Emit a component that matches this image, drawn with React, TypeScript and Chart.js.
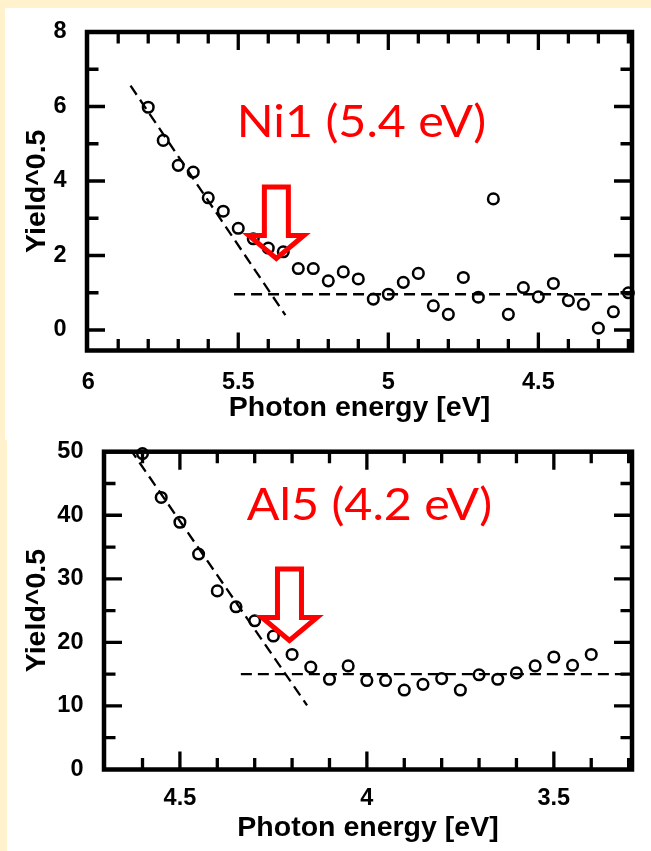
import React, { useEffect, useRef } from "react";
import { Chart, registerables } from "chart.js";

Chart.register(...registerables);

// ---------- Ni1 panel data ----------
const niEnergy = [
  5.8, 5.75, 5.7, 5.65, 5.6, 5.55, 5.5, 5.45, 5.4, 5.35, 5.3, 5.25, 5.2, 5.15, 5.1, 5.05, 5.0,
  4.95, 4.9, 4.85, 4.8, 4.75, 4.7, 4.65, 4.6, 4.55, 4.5, 4.45, 4.4, 4.35, 4.3, 4.25, 4.2,
];
const niYield = [
  5.98, 5.09, 4.42, 4.24, 3.55, 3.19, 2.73, 2.45, 2.2, 2.1, 1.65, 1.65, 1.32, 1.56, 1.37, 0.83, 0.96,
  1.28, 1.52, 0.65, 0.42, 1.41, 0.88, 3.52, 0.42, 1.14, 0.89, 1.25, 0.79, 0.69, 0.05, 0.49, 1.0,
];
const niSteepX = [5.859, 5.343];
const niSteepY = [6.56, 0.4];
const niBaseX = [5.514, 4.15];
const niBaseY = [0.96, 0.96];
const niXTicks = [6, 5.5, 5, 4.5];
const niYTicks = [0, 2, 4, 6, 8];
const niLabel = "Ni1 (5.4 eV)";
const niLabelAt = { x: 5.505, y: 5.18 };
const niArrowTip = { x: 5.373, y: 1.92 };

// ---------- Al5 panel data ----------
const alEnergy = [
  4.6, 4.55, 4.5, 4.45, 4.4, 4.35, 4.3, 4.25, 4.2, 4.15, 4.1, 4.05, 4.0, 3.95, 3.9, 3.85, 3.8,
  3.75, 3.7, 3.65, 3.6, 3.55, 3.5, 3.45, 3.4,
];
const alYield = [
  49.7, 42.8, 38.9, 33.9, 28.1, 25.6, 23.4, 21.0, 18.1, 16.1, 14.2, 16.3, 14.0, 14.0, 12.5, 13.4,
  14.3, 12.5, 14.9, 14.2, 15.2, 16.3, 17.7, 16.4, 18.1,
];
const alSteepX = [4.634, 4.16];
const alSteepY = [50.5, 10.1];
const alBaseX = [4.337, 3.25];
const alBaseY = [15.0, 15.0];
const alXTicks = [4.5, 4, 3.5];
const alYTicks = [0, 10, 20, 30, 40, 50];
const alLabel = "Al5 (4.2 eV)";
const alLabelAt = { x: 4.321, y: 39.3 };
const alArrowTip = { x: 4.207, y: 20.3 };

const AXIS_FONT = "'Liberation Sans', Arial, Helvetica, sans-serif";
const LABEL_FONT = "Lato, 'Open Sans', sans-serif";

const framePlugin = {
  id: "frameTicks",
  afterDatasetsDraw(chart: any, _args: any, opts: any) {
    const { ctx, chartArea } = chart;
    const { left, right, top, bottom } = chartArea;
    const xs = chart.scales.x;
    const ys = chart.scales.y;
    ctx.save();
    ctx.strokeStyle = "#000";
    ctx.lineCap = "butt";
    ctx.lineWidth = 3.3;
    const drawAxisTicks = (scale: any, step: number, major: number, horiz: boolean) => {
      const lo = Math.min(scale.min, scale.max);
      const hi = Math.max(scale.min, scale.max);
      const i0 = Math.ceil(lo / step - 1e-9);
      const i1 = Math.floor(hi / step + 1e-9);
      for (let i = i0; i <= i1; i++) {
        const v = i * step;
        const r = v / major;
        const isMajor = Math.abs(r - Math.round(r)) < 1e-6;
        const len = isMajor ? 18 : 11.5;
        const p = scale.getPixelForValue(v);
        ctx.beginPath();
        if (horiz) {
          if (p < left + 3 || p > right - 3) continue;
          ctx.moveTo(p, bottom);
          ctx.lineTo(p, bottom - len);
          ctx.moveTo(p, top);
          ctx.lineTo(p, top + len);
        } else {
          if (p < top + 3 || p > bottom - 3) continue;
          ctx.moveTo(left, p);
          ctx.lineTo(left + len, p);
          ctx.moveTo(right, p);
          ctx.lineTo(right - len, p);
        }
        ctx.stroke();
      }
    };
    drawAxisTicks(xs, opts.xMinor, opts.xMajor, true);
    drawAxisTicks(ys, opts.yMinor, opts.yMajor, false);
    ctx.lineWidth = 4.5;
    ctx.lineJoin = "miter";
    ctx.strokeRect(left, top, right - left, bottom - top);
    ctx.restore();
  },
};

const annotPlugin = {
  id: "annot",
  afterDraw(chart: any, _args: any, opts: any) {
    const { ctx } = chart;
    const xs = chart.scales.x;
    const ys = chart.scales.y;
    ctx.save();
    // red label (slightly widened like the reference)
    const lx = xs.getPixelForValue(opts.labelAt.x);
    const ly = ys.getPixelForValue(opts.labelAt.y);
    ctx.translate(lx, ly);
    ctx.scale(1.1, 1);
    ctx.fillStyle = "#ff0000";
    ctx.font = `${opts.fontSize}px ${LABEL_FONT}`;
    ctx.textAlign = "left";
    ctx.textBaseline = "alphabetic";
    ctx.fillText(opts.text, 0, 0);
    ctx.restore();
    ctx.save();
    // arrow
    const tx = xs.getPixelForValue(opts.tip.x);
    const ty = ys.getPixelForValue(opts.tip.y);
    const sw = 12, hw = 27.5, shaftTop = 71.5, headBase = 23;
    ctx.strokeStyle = "#ff0000";
    ctx.lineWidth = 5;
    ctx.lineJoin = "miter";
    ctx.miterLimit = 10;
    ctx.beginPath();
    ctx.moveTo(tx - sw, ty - shaftTop);
    ctx.lineTo(tx + sw, ty - shaftTop);
    ctx.lineTo(tx + sw, ty - headBase);
    ctx.lineTo(tx + hw, ty - headBase);
    ctx.lineTo(tx, ty);
    ctx.lineTo(tx - hw, ty - headBase);
    ctx.lineTo(tx - sw, ty - headBase);
    ctx.closePath();
    ctx.stroke();
    ctx.restore();
  },
};

type PanelProps = {
  width: number;
  height: number;
  energy: number[];
  values: number[];
  steepX: number[];
  steepY: number[];
  baseX: number[];
  baseY: number[];
  xTicks: number[];
  yTicks: number[];
  xMin: number;
  xMax: number;
  yMin: number;
  yMax: number;
  yMinor: number;
  yMajor: number;
  padTop: number;
  padRight: number;
  yAxisWidth: number;
  xAxisHeight: number;
  xTickPad: number;
  xTitlePadBottom: number;
  yTickPad: number;
  yTitlePadTop: number;
  label: string;
  labelAt: { x: number; y: number };
  tip: { x: number; y: number };
};

function Panel(p: PanelProps) {
  const ref = useRef<HTMLCanvasElement | null>(null);
  useEffect(() => {
    if (!ref.current) return;
    const pts = p.energy.map((x, i) => ({ x, y: p.values[i] }));
    const steep = p.steepX.map((x, i) => ({ x, y: p.steepY[i] }));
    const base = p.baseX.map((x, i) => ({ x, y: p.baseY[i] }));
    const tickFont = { family: AXIS_FONT, size: 23.5, weight: "bold" as const };
    const titleFont = { family: AXIS_FONT, size: 28.5, weight: "bold" as const };
    const dashed = {
      type: "line",
      borderColor: "#000",
      borderWidth: 2.3,
      borderDash: [11, 6],
      pointRadius: 0,
      fill: false,
    };
    const chart = new Chart(ref.current, {
      type: "scatter",
      data: {
        datasets: [
          { ...dashed, data: steep } as any,
          { ...dashed, data: base } as any,
          {
            type: "scatter",
            data: pts,
            pointStyle: "circle",
            pointRadius: 5.3,
            borderWidth: 2.5,
            borderColor: "#000",
            backgroundColor: "rgba(0,0,0,0)",
            clip: false,
          } as any,
        ],
      },
      options: {
        animation: false,
        responsive: false,
        maintainAspectRatio: false,
        events: [],
        layout: { padding: { top: p.padTop, right: p.padRight, left: 0, bottom: 0 } },
        plugins: {
          legend: { display: false },
          tooltip: { enabled: false },
          frameTicks: { xMinor: 0.1, xMajor: 0.5, yMinor: p.yMinor, yMajor: p.yMajor },
          annot: { text: p.label, labelAt: p.labelAt, tip: p.tip, fontSize: 44 },
        } as any,
        scales: {
          x: {
            type: "linear",
            reverse: true,
            min: p.xMin,
            max: p.xMax,
            grid: { display: false, drawTicks: false, tickLength: 0 },
            border: { display: false },
            ticks: {
              color: "#000",
              font: tickFont,
              padding: p.xTickPad,
              maxRotation: 0,
              autoSkip: false,
              callback: (v: any) => String(v),
            },
            afterBuildTicks: (s: any) => {
              s.ticks = p.xTicks.map((v) => ({ value: v }));
            },
            afterFit: (s: any) => {
              s.height = p.xAxisHeight;
              s.paddingLeft = 0;
              s.paddingRight = 0;
            },
            title: {
              display: true,
              text: "Photon energy [eV]",
              color: "#000",
              font: titleFont,
              padding: { top: 0, bottom: p.xTitlePadBottom },
            },
          },
          y: {
            type: "linear",
            min: p.yMin,
            max: p.yMax,
            grid: { display: false, drawTicks: false, tickLength: 0 },
            border: { display: false },
            ticks: {
              color: "#000",
              font: tickFont,
              padding: p.yTickPad,
              autoSkip: false,
              callback: (v: any) => String(v),
            },
            afterBuildTicks: (s: any) => {
              s.ticks = p.yTicks.map((v) => ({ value: v }));
            },
            afterFit: (s: any) => {
              s.width = p.yAxisWidth;
              s.paddingTop = 0;
              s.paddingBottom = 0;
            },
            title: {
              display: true,
              text: "Yield^0.5",
              color: "#000",
              font: titleFont,
              padding: { top: p.yTitlePadTop, bottom: 0 },
            },
          },
        },
      } as any,
      plugins: [framePlugin, annotPlugin],
    });
    return () => chart.destroy();
  }, []);
  return (
    <canvas
      ref={ref}
      width={p.width}
      height={p.height}
      style={{ width: p.width, height: p.height, display: "block" }}
    />
  );
}

export default function App() {
  return (
    <div
      style={{
        position: "absolute",
        left: 0,
        top: 0,
        width: 651,
        height: 851,
        background: "#FFF2CC",
        overflow: "hidden",
      }}
    >
      <div style={{ position: "absolute", left: 5, top: 8, width: 646, height: 432, background: "#fff" }} />
      <div style={{ position: "absolute", left: 7, top: 437, width: 644, height: 414, background: "#fff" }} />
      <div style={{ position: "absolute", left: 0, top: 0 }}>
        <Panel
          width={651}
          height={437}
          energy={niEnergy}
          values={niYield}
          steepX={niSteepX}
          steepY={niSteepY}
          baseX={niBaseX}
          baseY={niBaseY}
          xTicks={niXTicks}
          yTicks={niYTicks}
          xMin={4.188}
          xMax={6.004}
          yMin={-0.55}
          yMax={8}
          yMinor={1}
          yMajor={2}
          padTop={32}
          padRight={19}
          yAxisWidth={87}
          xAxisHeight={86.5}
          xTickPad={18}
          xTitlePadBottom={11.5}
          yTickPad={20.5}
          yTitlePadTop={20}
          label={niLabel}
          labelAt={niLabelAt}
          tip={niArrowTip}
        />
      </div>
      <div style={{ position: "absolute", left: 0, top: 437 }}>
        <Panel
          width={651}
          height={414}
          energy={alEnergy}
          values={alYield}
          steepX={alSteepX}
          steepY={alSteepY}
          baseX={alBaseX}
          baseY={alBaseY}
          xTicks={alXTicks}
          yTicks={alYTicks}
          xMin={3.291}
          xMax={4.703}
          yMin={0}
          yMax={50}
          yMinor={5}
          yMajor={10}
          padTop={14.7}
          padRight={19}
          yAxisWidth={104}
          xAxisHeight={81.5}
          xTickPad={15}
          xTitlePadBottom={5.5}
          yTickPad={20.5}
          yTitlePadTop={20}
          label={alLabel}
          labelAt={alLabelAt}
          tip={alArrowTip}
        />
      </div>
    </div>
  );
}
